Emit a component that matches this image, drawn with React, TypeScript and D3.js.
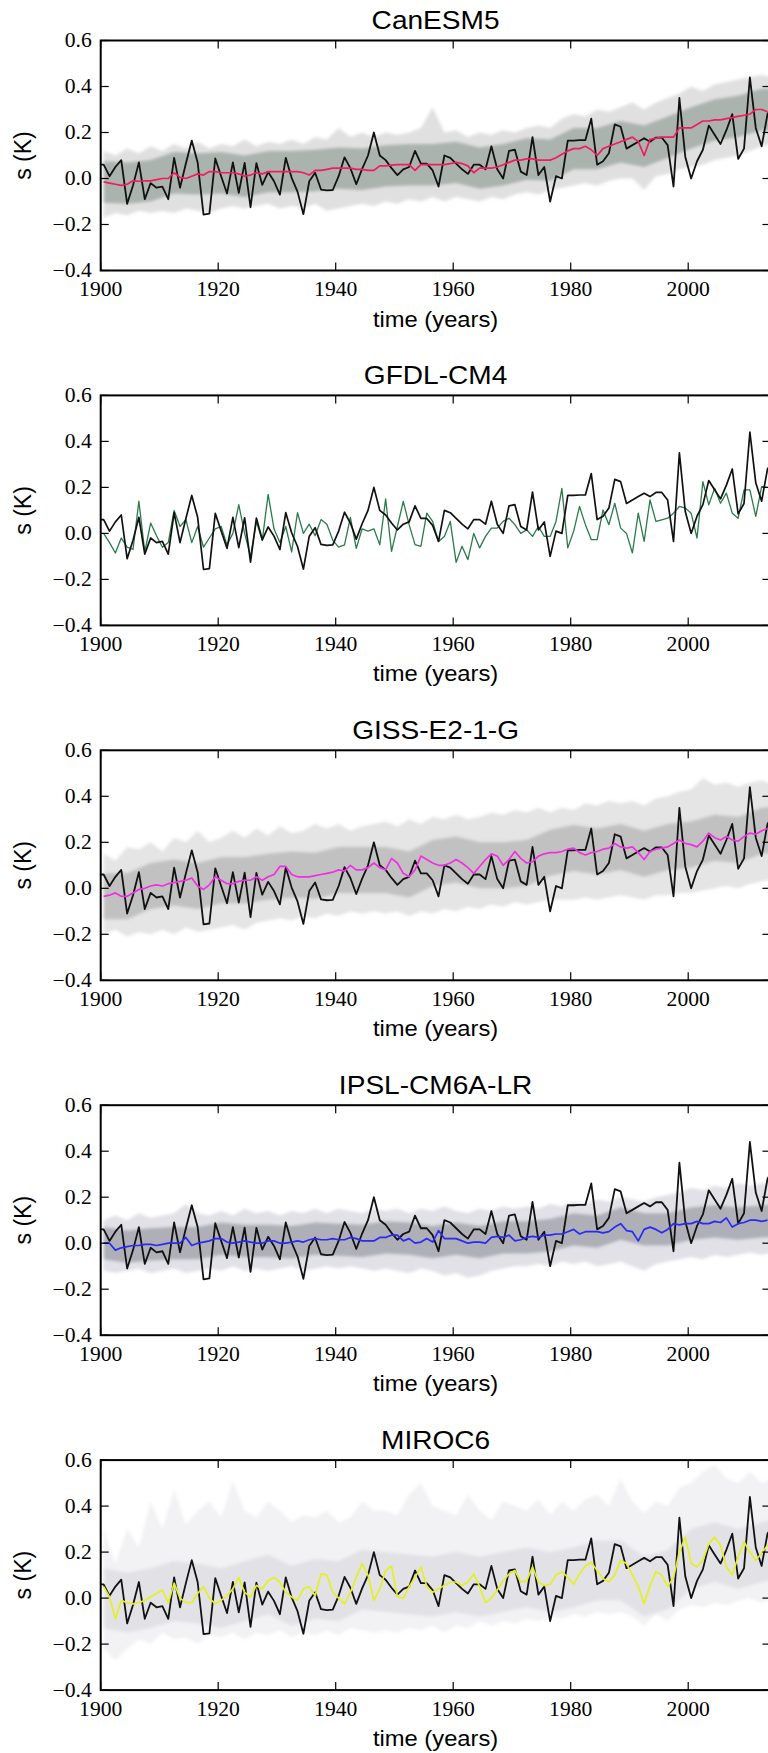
import React from 'react';
import * as d3 from 'd3';

// ---------------- DATA ----------------
// Observed series (same in every panel), one value per year starting 1899
const obsStart = 1899;
const obsValues = [
  0.06, 0.06, 0.01, 0.05, 0.08, -0.11, -0.03, 0.07, -0.09, -0.02,
  -0.04, -0.035, -0.09, 0.09, -0.04, 0.065, 0.165, 0.07, -0.157, -0.153,
  0.087, 0.01, -0.065, 0.07, -0.062, 0.068, -0.125, 0.067, -0.028, 0.028,
  -0.012, -0.07, 0.09, 0.003, -0.057, -0.155, -0.012, 0.025, -0.048, -0.052,
  -0.05, 0.01, 0.092, 0.045, -0.025, 0.042, 0.1, 0.2, 0.1, 0.08,
  0.045, 0.015, 0.04, 0.05, 0.12, 0.065, 0.065, 0.035, -0.035, 0.1,
  0.09, 0.065, 0.04, 0.02, 0.06, 0.06, 0.04, 0.14, 0.04, 0.0,
  0.12, 0.125, 0.03, 0.015, 0.18, 0.015, 0.05, -0.1, 0.01, 0.0,
  0.165, 0.165, 0.167, 0.167, 0.26, 0.06, 0.075, 0.11, 0.235, 0.225,
  0.13, 0.145, 0.16, 0.175, 0.16, 0.178, 0.178, 0.145, -0.035, 0.35,
  0.095, 0.0, 0.075, 0.125, 0.23, 0.19, 0.15, 0.21, 0.28, 0.085,
  0.13, 0.44, 0.22, 0.14, 0.28, 0.32,
];

// Model lines, one value per year starting 1900
const modelStart = 1900;
const canesm5Mean = [
  -0.015, -0.02, -0.025, -0.03, -0.025, -0.01, -0.012, -0.01, -0.01, -0.005,
  0.0, 0.0, 0.025, 0.005, 0.0, 0.01, 0.02, 0.015, 0.03, 0.03,
  0.025, 0.025, 0.025, 0.02, 0.01, 0.015, 0.025, 0.02, 0.03, 0.03,
  0.03, 0.03, 0.03, 0.03, 0.025, 0.015, 0.035, 0.035, 0.04, 0.045,
  0.045, 0.045, 0.045, 0.04, 0.04, 0.035, 0.035, 0.055, 0.055, 0.058,
  0.06, 0.06, 0.06, 0.035, 0.06, 0.06, 0.06, 0.06, 0.06, 0.065,
  0.07, 0.065, 0.055, 0.025, 0.045, 0.045, 0.045, 0.05, 0.06, 0.07,
  0.08, 0.08, 0.085, 0.085, 0.08, 0.08, 0.08, 0.09, 0.105, 0.12,
  0.13, 0.13, 0.14, 0.125, 0.1, 0.13, 0.14, 0.15, 0.16, 0.17,
  0.18, 0.16, 0.1, 0.17, 0.175, 0.18, 0.18, 0.18, 0.22, 0.22,
  0.22, 0.235, 0.25, 0.25, 0.255, 0.255, 0.26, 0.265, 0.27, 0.275,
  0.28, 0.3, 0.3, 0.29,
];
const gfdlMember = [
  0.0, -0.04, -0.085, -0.02, -0.06, -0.07, 0.14, -0.08, 0.045, -0.01,
  -0.06, -0.04, 0.1, 0.03, 0.06, -0.04, 0.03, -0.06, -0.02, 0.02,
  0.03, -0.05, 0.0, 0.125, 0.0, -0.1, 0.05, -0.03, 0.17, 0.02,
  -0.04, 0.03, -0.08, 0.09, 0.0, 0.04, -0.01, 0.06, 0.04, -0.03,
  -0.06, -0.05, 0.07, -0.065, 0.02, 0.01, 0.02, -0.05, 0.15, -0.078,
  0.03, 0.139, 0.038, -0.049, -0.056, 0.088, 0.052, -0.035, -0.013, 0.052,
  -0.126, -0.056, -0.114, 0.0, -0.063, -0.013, 0.023, 0.023, 0.052, 0.066,
  0.038, 0.0, 0.016, -0.013, 0.03, -0.013, -0.013, 0.052, 0.196, -0.063,
  0.009, 0.117, 0.038, -0.027, -0.027, 0.102, 0.038, 0.131, 0.023, 0.0,
  -0.085, 0.088, -0.035, 0.146, 0.052, 0.059, 0.066, 0.088, 0.117, 0.11,
  0.088, -0.02, 0.225, 0.124, 0.196, 0.131, 0.175, 0.088, 0.066, 0.189,
  0.189, 0.074, 0.203, 0.2,
];
const gissMean = [
  -0.035, -0.03, -0.02, -0.035, -0.035, -0.02, -0.005, 0.0, 0.01, 0.015,
  0.01, 0.02, 0.025, 0.03, 0.035, 0.045, 0.01, -0.005, 0.015, 0.05,
  0.035, 0.02, 0.02, 0.03, 0.035, 0.035, 0.05, 0.035, 0.05, 0.06,
  0.095, 0.095, 0.06, 0.05, 0.05, 0.05, 0.055, 0.06, 0.065, 0.07,
  0.08, 0.075, 0.1, 0.08, 0.08, 0.09, 0.11, 0.09, 0.08, 0.13,
  0.11, 0.065, 0.05, 0.08, 0.14, 0.125, 0.11, 0.1, 0.1, 0.11,
  0.125, 0.11, 0.09, 0.065, 0.095, 0.125, 0.15, 0.14, 0.1, 0.125,
  0.16, 0.13, 0.11, 0.115, 0.14, 0.15, 0.155, 0.155, 0.16, 0.17,
  0.175, 0.155, 0.145, 0.155, 0.16, 0.17, 0.175, 0.195, 0.18, 0.175,
  0.18, 0.155, 0.125, 0.16, 0.17, 0.175, 0.18, 0.195, 0.21, 0.195,
  0.19, 0.18, 0.205, 0.24, 0.22, 0.21, 0.225, 0.21, 0.205, 0.225,
  0.24, 0.235, 0.25, 0.26,
];
const ipslMean = [
  0.0, 0.0, -0.03, -0.02, -0.015, -0.01, -0.01, -0.005, -0.005, -0.01,
  -0.005, 0.0, 0.0, 0.0, 0.025, -0.01, 0.0, 0.005, 0.01, 0.02,
  0.02, 0.005, 0.0, 0.005, 0.01, 0.005, 0.0, 0.0, 0.01, 0.01,
  0.0, 0.0, 0.005, 0.01, 0.005, 0.015, 0.02, 0.015, 0.015, 0.02,
  0.015, 0.015, 0.025, 0.02, 0.01, 0.01, 0.01, 0.025, 0.025, 0.035,
  0.035, 0.01, 0.02, 0.0, 0.005, 0.02, 0.005, 0.055, 0.02, 0.02,
  0.02, 0.01, 0.0, 0.005, 0.005, 0.0, 0.025, 0.03, 0.025, 0.035,
  0.01, 0.015, 0.025, 0.03, 0.025, 0.035, 0.035, 0.04, 0.04, 0.05,
  0.06, 0.04, 0.05, 0.05, 0.05, 0.045, 0.05, 0.07, 0.085, 0.055,
  0.05, 0.01, 0.06, 0.07, 0.06, 0.045, 0.06, 0.085, 0.08, 0.085,
  0.085, 0.095, 0.085, 0.085, 0.095, 0.09, 0.11, 0.07, 0.085, 0.09,
  0.1, 0.1, 0.095, 0.1,
];
const mirocMean = [
  0.05, 0.005, -0.09, -0.01, -0.02, -0.025, -0.02, -0.01, 0.005, 0.02,
  0.035, -0.02, 0.065, 0.0, -0.02, -0.02, 0.02, 0.05, 0.0, -0.025,
  -0.01, 0.01, 0.04, 0.09, 0.025, 0.005, 0.055, 0.04, 0.075, 0.09,
  0.07, 0.025, 0.005, -0.01, 0.04, 0.05, 0.01, 0.105, 0.1, 0.025,
  0.0, -0.025, 0.025, 0.09, 0.15, 0.1, -0.01, 0.04, 0.12, 0.14,
  0.005, 0.0, 0.05, 0.09, 0.135, 0.05, 0.025, 0.04, 0.055, 0.07,
  0.07, 0.055, 0.07, 0.105, 0.05, -0.02, 0.0, 0.035, 0.075, 0.105,
  0.12, 0.07, 0.075, 0.135, 0.07, 0.055, 0.06, 0.1, 0.115, 0.09,
  0.06, 0.105, 0.14, 0.155, 0.12, 0.085, 0.07, 0.1, 0.165, 0.15,
  0.1, 0.05, -0.025, 0.055, 0.115, 0.1, 0.05, 0.09, 0.2, 0.265,
  0.15, 0.135, 0.165, 0.235, 0.265, 0.23, 0.135, 0.1, 0.18, 0.245,
  0.2, 0.165, 0.195, 0.23,
];

// Ensemble spread (outer envelope) every 2 years from 1900
const envStart = 1900;
const envStep = 2;
const canesm5Hi = [
  0.12, 0.10, 0.13, 0.11, 0.14, 0.12, 0.15, 0.13, 0.16, 0.13,
  0.15, 0.14, 0.17, 0.14, 0.16, 0.15, 0.17, 0.15, 0.18, 0.17,
  0.22, 0.18, 0.2, 0.18, 0.2, 0.19, 0.2, 0.22, 0.31, 0.2,
  0.21, 0.18, 0.2, 0.19, 0.21, 0.2, 0.22, 0.23, 0.22, 0.26,
  0.28, 0.27, 0.3, 0.29, 0.31, 0.33, 0.3, 0.33, 0.35, 0.37,
  0.4, 0.38, 0.41, 0.42, 0.43, 0.44, 0.45, 0.44,
];
const canesm5Lo = [
  -0.17, -0.15, -0.16, -0.14, -0.15, -0.14, -0.15, -0.13, -0.14, -0.15,
  -0.13, -0.12, -0.13, -0.12, -0.11, -0.13, -0.12, -0.13, -0.11, -0.14,
  -0.13, -0.12, -0.11, -0.12, -0.1, -0.11, -0.09, -0.1, -0.08, -0.1,
  -0.08, -0.09, -0.1, -0.08, -0.09, -0.07, -0.06, -0.07, -0.05, -0.04,
  -0.03, -0.02, -0.03, -0.01, 0.0, 0.0, -0.05, 0.01, 0.02, 0.04,
  0.05, 0.06, 0.08, 0.09, 0.1, 0.12, 0.14, 0.15,
];
const gissHi = [
  0.15, 0.12, 0.18, 0.17, 0.2, 0.16, 0.22, 0.2, 0.25, 0.2,
  0.22, 0.25, 0.22, 0.26, 0.23, 0.27, 0.24, 0.25, 0.28, 0.26,
  0.28, 0.25, 0.27, 0.28, 0.29, 0.27, 0.3, 0.28, 0.31, 0.3,
  0.32, 0.3, 0.31, 0.33, 0.32, 0.34, 0.33, 0.35, 0.33, 0.35,
  0.34, 0.37, 0.36, 0.38, 0.37, 0.38, 0.36, 0.39, 0.4, 0.42,
  0.43, 0.48, 0.45, 0.46, 0.44, 0.46, 0.47, 0.45,
];
const gissLo = [
  -0.2, -0.18, -0.21, -0.19, -0.2, -0.18, -0.2, -0.17, -0.19, -0.18,
  -0.17, -0.16, -0.18, -0.15, -0.14, -0.13, -0.14, -0.12, -0.13, -0.11,
  -0.12, -0.1, -0.11, -0.1, -0.11, -0.1, -0.12, -0.1, -0.11, -0.09,
  -0.1, -0.08, -0.09, -0.07, -0.08, -0.06, -0.07, -0.06, -0.05, -0.05,
  -0.05, -0.04, -0.05, -0.04, -0.03, -0.04, -0.05, -0.03, -0.03, -0.02,
  -0.02, -0.01, 0.0, 0.01, 0.0, 0.02, 0.03, 0.04,
];
const ipslHi = [
  0.1, 0.12, 0.1, 0.13, 0.11, 0.12, 0.13, 0.17, 0.13, 0.12,
  0.14, 0.12, 0.15, 0.13, 0.14, 0.12, 0.14, 0.13, 0.15, 0.13,
  0.15, 0.14, 0.13, 0.15, 0.14, 0.15, 0.13, 0.15, 0.14, 0.16,
  0.14, 0.13, 0.15, 0.14, 0.16, 0.15, 0.16, 0.15, 0.17, 0.16,
  0.18, 0.17, 0.19, 0.18, 0.2, 0.19, 0.18, 0.2, 0.21, 0.22,
  0.24, 0.23, 0.25, 0.24, 0.26, 0.25, 0.26, 0.26,
];
const ipslLo = [
  -0.12, -0.13, -0.12, -0.11, -0.13, -0.12, -0.11, -0.13, -0.12, -0.11,
  -0.12, -0.1, -0.12, -0.11, -0.12, -0.11, -0.1, -0.12, -0.11, -0.1,
  -0.11, -0.1, -0.11, -0.12, -0.11, -0.12, -0.13, -0.11, -0.12, -0.14,
  -0.13, -0.15, -0.14, -0.12, -0.11, -0.1, -0.1, -0.09, -0.1, -0.08,
  -0.09, -0.08, -0.1, -0.09, -0.08, -0.1, -0.12, -0.09, -0.08, -0.07,
  -0.06, -0.07, -0.05, -0.06, -0.05, -0.04, -0.05, -0.04,
];
const mirocHi = [
  0.3, 0.15, 0.3, 0.22, 0.42, 0.3, 0.47, 0.32, 0.38, 0.42,
  0.35, 0.51, 0.38, 0.35, 0.42, 0.38, 0.33, 0.36, 0.35, 0.38,
  0.33, 0.35, 0.42, 0.38, 0.38, 0.36, 0.45, 0.5, 0.4, 0.38,
  0.36, 0.45, 0.38, 0.34, 0.42, 0.4, 0.38, 0.43, 0.36, 0.42,
  0.38, 0.43, 0.45, 0.4, 0.52, 0.42, 0.37, 0.42, 0.4, 0.48,
  0.5, 0.55, 0.58, 0.52, 0.5, 0.55, 0.5, 0.52,
];
const mirocLo = [
  -0.22, -0.27, -0.22, -0.18, -0.2, -0.15, -0.18, -0.17, -0.2, -0.16,
  -0.17, -0.15, -0.18, -0.15, -0.16, -0.14, -0.17, -0.15, -0.16, -0.14,
  -0.16, -0.13, -0.14, -0.15, -0.14, -0.15, -0.13, -0.14, -0.12, -0.15,
  -0.12, -0.13, -0.1, -0.12, -0.1, -0.11, -0.09, -0.1, -0.08, -0.09,
  -0.07, -0.08, -0.06, -0.07, -0.06, -0.08, -0.12, -0.07, -0.1, -0.05,
  -0.03, -0.04, -0.02, -0.03, -0.01, 0.0, -0.02, 0.0,
];

// Dense core of the ensemble every 4 years from 1900
const coreStart = 1900;
const coreStep = 4;
const canesm5CoreHi = [0.075, 0.07, 0.08, 0.115, 0.11, 0.115, 0.1, 0.12, 0.12, 0.125, 0.135, 0.13, 0.145, 0.15, 0.15, 0.16, 0.135, 0.15, 0.175, 0.17, 0.22, 0.22, 0.25, 0.23, 0.27, 0.31, 0.345, 0.36, 0.39, 0.39];
const canesm5CoreLo = [-0.105, -0.11, -0.1, -0.065, -0.07, -0.065, -0.08, -0.06, -0.06, -0.055, -0.045, -0.05, -0.035, -0.03, -0.03, -0.02, -0.045, -0.03, -0.005, -0.01, 0.04, 0.04, 0.07, 0.05, 0.09, 0.13, 0.165, 0.18, 0.21, 0.21];
const gissCoreHi = [0.065, 0.065, 0.11, 0.125, 0.11, 0.135, 0.135, 0.15, 0.16, 0.155, 0.18, 0.18, 0.18, 0.16, 0.21, 0.225, 0.2, 0.2, 0.21, 0.255, 0.275, 0.26, 0.28, 0.25, 0.28, 0.29, 0.32, 0.31, 0.35, 0.36];
const gissCoreLo = [-0.135, -0.135, -0.09, -0.075, -0.09, -0.065, -0.065, -0.05, -0.04, -0.045, -0.02, -0.02, -0.02, -0.04, 0.01, 0.025, 0.0, 0.0, 0.01, 0.055, 0.075, 0.06, 0.08, 0.05, 0.08, 0.09, 0.12, 0.11, 0.15, 0.16];
const ipslCoreHi = [0.07, 0.055, 0.065, 0.07, 0.07, 0.09, 0.08, 0.08, 0.075, 0.09, 0.085, 0.08, 0.095, 0.09, 0.075, 0.09, 0.075, 0.095, 0.095, 0.105, 0.13, 0.12, 0.155, 0.13, 0.13, 0.155, 0.165, 0.155, 0.165, 0.17];
const ipslCoreLo = [-0.07, -0.085, -0.075, -0.07, -0.07, -0.05, -0.06, -0.06, -0.065, -0.05, -0.055, -0.06, -0.045, -0.05, -0.065, -0.05, -0.065, -0.045, -0.045, -0.035, -0.01, -0.02, 0.015, -0.01, -0.01, 0.015, 0.025, 0.015, 0.025, 0.03];
const mirocCoreHi = [0.13, 0.11, 0.13, 0.16, 0.15, 0.13, 0.16, 0.19, 0.14, 0.17, 0.16, 0.21, 0.2, 0.19, 0.18, 0.2, 0.18, 0.2, 0.22, 0.2, 0.22, 0.25, 0.25, 0.18, 0.21, 0.3, 0.33, 0.3, 0.33, 0.35];
const mirocCoreLo = [-0.13, -0.15, -0.13, -0.1, -0.11, -0.13, -0.1, -0.07, -0.12, -0.09, -0.1, -0.05, -0.06, -0.07, -0.08, -0.06, -0.08, -0.06, -0.04, -0.06, -0.04, -0.01, -0.01, -0.08, -0.05, 0.04, 0.07, 0.04, 0.07, 0.09];

const panelTitles = ['CanESM5', 'GFDL-CM4', 'GISS-E2-1-G', 'IPSL-CM6A-LR', 'MIROC6'];
const xTicks = [1900, 1920, 1940, 1960, 1980, 2000, 2020];
const yTicks = [-0.4, -0.2, 0.0, 0.2, 0.4, 0.6];
const xLabel = 'time (years)';
const yLabel = 's (K)';

// ---------------- LAYOUT / STYLE ----------------
const W = 768;
const H = 1753;
const X_LEFT = 100.7;
const X_RIGHT = 770.45;
const X_DOMAIN: [number, number] = [1900, 2014];
const Y_DOMAIN: [number, number] = [-0.4, 0.6];
const TOP0 = 40.5;
const STEP = 354.9;
const PH = 230;
const TIME_OFFSET = 0.5;
const TICK = 8;
const STRETCH = 1.08;
const SANS = '"Liberation Sans", Arial, Helvetica, sans-serif';
const SERIF = '"Liberation Serif", "Times New Roman", serif';

type Ens = { hi: number[]; lo: number[]; coreHi: number[]; coreLo: number[]; outer: string; outerOp: number; core: string; coreOp: number };
type PanelSpec = { title: string; line: number[]; color: string; width: number; ens?: Ens };

const panels: PanelSpec[] = [
  { title: panelTitles[0], line: canesm5Mean, color: '#f21c5c', width: 1.7,
    ens: { hi: canesm5Hi, lo: canesm5Lo, coreHi: canesm5CoreHi, coreLo: canesm5CoreLo, outer: '#8e8e8e', outerOp: 0.28, core: '#75857e', coreOp: 0.5 } },
  { title: panelTitles[1], line: gfdlMember, color: '#2b7a4b', width: 1.3 },
  { title: panelTitles[2], line: gissMean, color: '#f030e0', width: 1.7,
    ens: { hi: gissHi, lo: gissLo, coreHi: gissCoreHi, coreLo: gissCoreLo, outer: '#9a9a9a', outerOp: 0.26, core: '#8a868a', coreOp: 0.38 } },
  { title: panelTitles[3], line: ipslMean, color: '#2a2af2', width: 1.7,
    ens: { hi: ipslHi, lo: ipslLo, coreHi: ipslCoreHi, coreLo: ipslCoreLo, outer: '#9c9cae', outerOp: 0.3, core: '#7e7e88', coreOp: 0.5 } },
  { title: panelTitles[4], line: mirocMean, color: '#e2f024', width: 1.7,
    ens: { hi: mirocHi, lo: mirocLo, coreHi: mirocCoreHi, coreLo: mirocCoreLo, outer: '#b0b0bc', outerOp: 0.16, core: '#a0a0ac', coreOp: 0.2 } },
];

const fmtY = (v: number) => (v < 0 ? '\u2212' : '') + Math.abs(v).toFixed(1);

function Panel({ p, i }: { p: PanelSpec; i: number }) {
  const top = TOP0 + i * STEP;
  const bottom = top + PH;
  const x = d3.scaleLinear().domain(X_DOMAIN).range([X_LEFT, X_RIGHT]);
  const y = d3.scaleLinear().domain(Y_DOMAIN).range([bottom, top]);
  const line = d3.line<[number, number]>().x(d => x(d[0] + TIME_OFFSET)).y(d => y(d[1]));
  const area = d3.area<[number, number, number]>().x(d => x(d[0] + TIME_OFFSET)).y0(d => y(d[1])).y1(d => y(d[2]));
  const clipId = `clip${i}`;

  const obsPts: [number, number][] = obsValues.map((v, k) => [obsStart + k, v]);
  const modPts: [number, number][] = p.line.map((v, k) => [modelStart + k, v]);
  let outerPath: string | null = null;
  let corePath: string | null = null;
  if (p.ens) {
    const e = p.ens;
    outerPath = area(e.lo.map((v, k) => [envStart + k * envStep, v, e.hi[k]] as [number, number, number]));
    corePath = area(e.coreLo.map((v, k) => [coreStart + k * coreStep, v, e.coreHi[k]] as [number, number, number]));
  }
  const cx = (X_LEFT + X_RIGHT) / 2;
  const cy = (top + bottom) / 2;

  return (
    <g>
      <defs>
        <clipPath id={clipId}>
          <rect x={X_LEFT} y={top} width={X_RIGHT - X_LEFT} height={PH} />
        </clipPath>
      </defs>
      <g clipPath={`url(#${clipId})`}>
        <g filter="url(#soft)">
          {outerPath && <path d={outerPath} fill={p.ens!.outer} fillOpacity={p.ens!.outerOp} stroke="none" />}
          {corePath && <path d={corePath} fill={p.ens!.core} fillOpacity={p.ens!.coreOp} stroke="none" />}
        </g>
        {p.ens ? (
          <>
            <path d={line(obsPts)!} fill="none" stroke="#111" strokeWidth={1.8} strokeLinejoin="round" />
            <path d={line(modPts)!} fill="none" stroke={p.color} strokeWidth={p.width} strokeLinejoin="round" />
          </>
        ) : (
          <>
            <path d={line(modPts)!} fill="none" stroke={p.color} strokeWidth={p.width} strokeLinejoin="round" />
            <path d={line(obsPts)!} fill="none" stroke="#111" strokeWidth={1.7} strokeLinejoin="round" />
          </>
        )}
      </g>
      {/* spines */}
      <rect x={X_LEFT} y={top} width={X_RIGHT - X_LEFT} height={PH} fill="none" stroke="#000" strokeWidth={2} />
      {/* ticks */}
      {xTicks.map(t => (
        <g key={`xt${t}`}>
          <line x1={x(t)} x2={x(t)} y1={bottom} y2={bottom - TICK} stroke="#000" strokeWidth={1.2} />
          <line x1={x(t)} x2={x(t)} y1={top} y2={top + TICK} stroke="#000" strokeWidth={1.2} />
        </g>
      ))}
      {yTicks.map(t => (
        <g key={`yt${t}`}>
          <line x1={X_LEFT} x2={X_LEFT + TICK} y1={y(t)} y2={y(t)} stroke="#000" strokeWidth={1.2} />
          <line x1={X_RIGHT} x2={X_RIGHT - TICK} y1={y(t)} y2={y(t)} stroke="#000" strokeWidth={1.2} />
        </g>
      ))}
      {/* tick labels */}
      {xTicks.filter(t => t <= X_DOMAIN[1]).map(t => (
        <text key={`xl${t}`} transform={`translate(${x(t)},${bottom + 25.5}) scale(${STRETCH},1)`} textAnchor="middle"
          fontFamily={SERIF} fontSize={20} fill="#000">{String(t)}</text>
      ))}
      {yTicks.map(t => (
        <text key={`yl${t}`} transform={`translate(${X_LEFT - 9},${y(t) + 6.5}) scale(${STRETCH},1)`} textAnchor="end"
          fontFamily={SERIF} fontSize={20} fill="#000">{fmtY(t)}</text>
      ))}
      {/* title */}
      <text transform={`translate(${cx},${top - 11.5}) scale(${STRETCH},1)`} textAnchor="middle" fontFamily={SANS} fontSize={26} fill="#000">{p.title}</text>
      {/* axis labels */}
      <text transform={`translate(${cx},${bottom + 56}) scale(${STRETCH},1)`} textAnchor="middle" fontFamily={SANS} fontSize={22} fill="#000">{xLabel}</text>
      <text transform={`translate(31,${cy}) rotate(-90)`} textAnchor="middle" fontFamily={SANS} fontSize={23} fill="#000">{yLabel}</text>
    </g>
  );
}

export default function App() {
  return (
    <svg width={W} height={H} viewBox={`0 0 ${W} ${H}`} style={{ position: 'absolute', left: 0, top: 0, background: '#fff' }}>
      <defs>
        <filter id="soft" x="-5%" y="-20%" width="110%" height="140%">
          <feGaussianBlur stdDeviation="1.6" />
        </filter>
      </defs>
      <rect x={0} y={0} width={W} height={H} fill="#fff" />
      {panels.map((p, i) => <Panel key={p.title} p={p} i={i} />)}
    </svg>
  );
}
